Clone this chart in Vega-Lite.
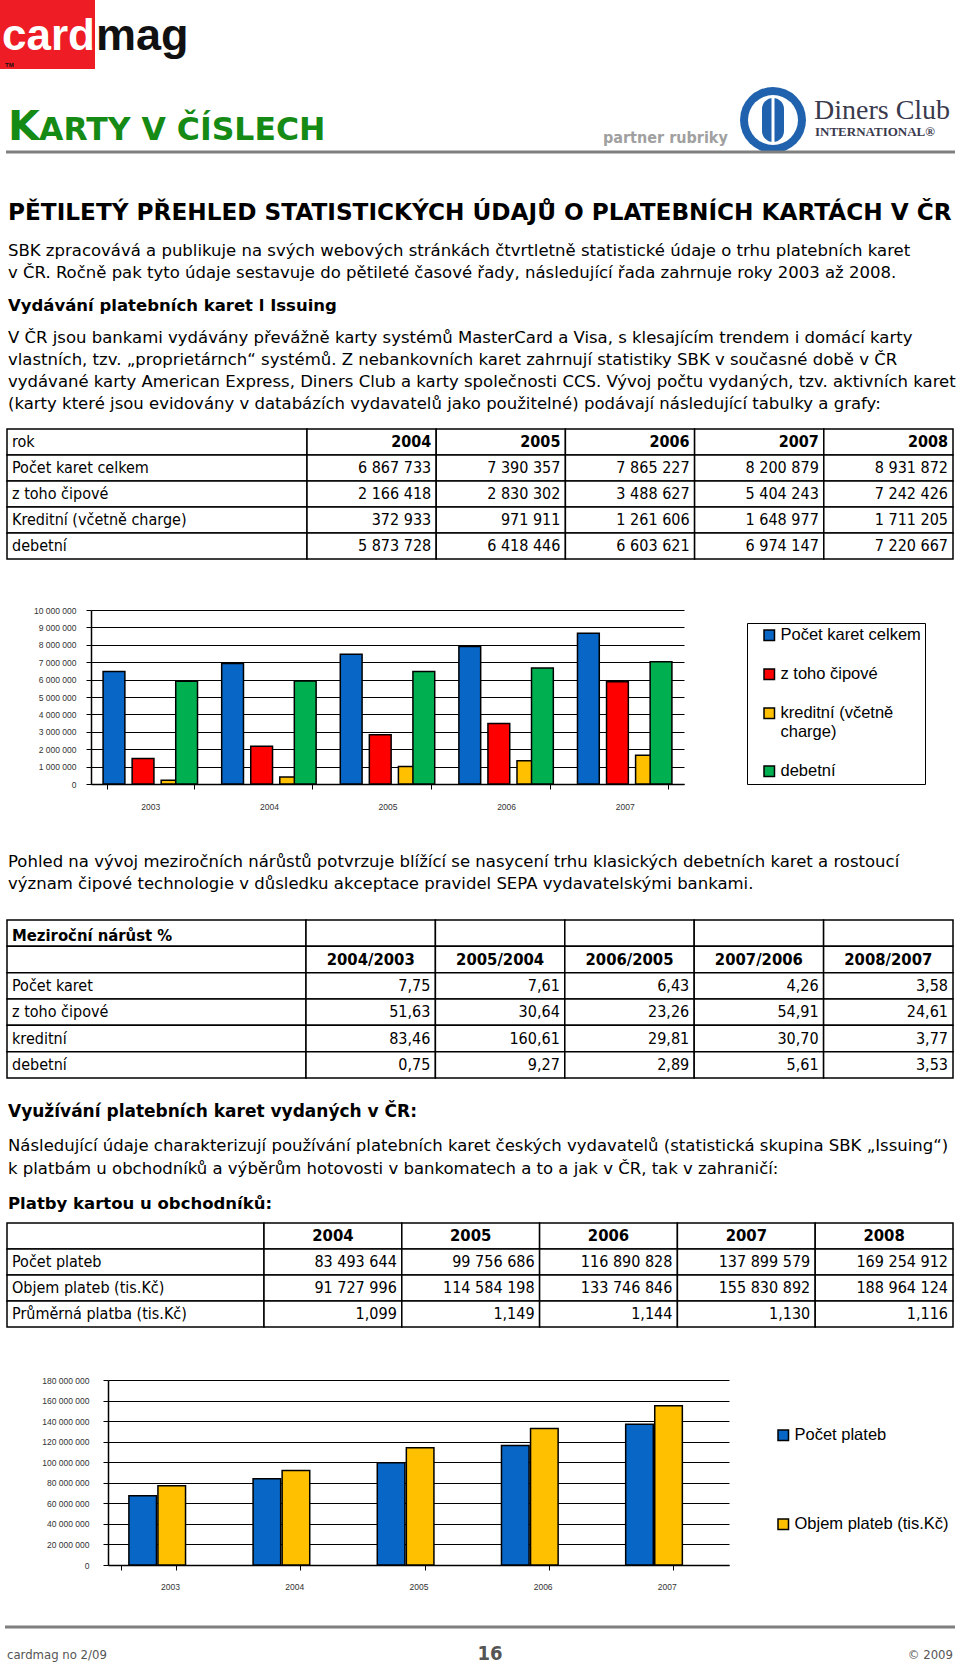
{
  "$schema": "https://vega.github.io/schema/vega-lite/v6.json",
  "padding": 0,
  "background": "#ffffff",
  "spacing": 0,
  "bounds": "flush",
  "resolve": {"scale": {"color": "independent"}, "legend": {"color": "independent"}},
  "config": {
    "view": {"stroke": null},
    "locale": {"number": {"decimal": ",", "thousands": " ", "grouping": [3], "currency": ["", ""]}}
  },
  "vconcat": [
    {
      "width": 960, "height": 186,
      "layer": [
        {"data": {"values": [{"k": "logo"}]}, "mark": {"type": "rect", "color": "#ee1c24"},
         "encoding": {"x": {"value": 0}, "x2": {"value": 95}, "y": {"value": 0}, "y2": {"value": 69}}},
        {"data": {"values": [{"t": "card"}]}, "mark": {"type": "text", "align": "left", "baseline": "alphabetic", "font": "Liberation Sans", "fontWeight": "bold", "fontSize": 44, "color": "#ffffff"},
         "encoding": {"x": {"value": 2}, "y": {"value": 50}, "text": {"field": "t"}}},
        {"data": {"values": [{"t": "mag"}]}, "mark": {"type": "text", "align": "left", "baseline": "alphabetic", "font": "Liberation Sans", "fontWeight": "bold", "fontSize": 45, "color": "#111111"},
         "encoding": {"x": {"value": 96}, "y": {"value": 50}, "text": {"field": "t"}}},
        {"data": {"values": [{"t": "TM"}]}, "mark": {"type": "text", "align": "left", "baseline": "alphabetic", "font": "Liberation Sans", "fontWeight": "bold", "fontSize": 6, "color": "#111111"},
         "encoding": {"x": {"value": 5}, "y": {"value": 67}, "text": {"field": "t"}}},
        {"data": {"values": [{"t": "K"}]}, "mark": {"type": "text", "align": "left", "baseline": "alphabetic", "font": "DejaVu Sans", "fontWeight": "bold", "fontSize": 41, "color": "#158a15"},
         "encoding": {"x": {"value": 8}, "y": {"value": 140}, "text": {"field": "t"}}},
        {"data": {"values": [{"t": "ARTY V ČÍSLECH"}]}, "mark": {"type": "text", "align": "left", "baseline": "alphabetic", "font": "DejaVu Sans", "fontWeight": "bold", "fontSize": 31.5, "color": "#158a15"},
         "encoding": {"x": {"value": 39}, "y": {"value": 140}, "text": {"field": "t"}}},
        {"data": {"values": [{"t": "partner rubriky"}]}, "mark": {"type": "text", "align": "left", "baseline": "alphabetic", "font": "DejaVu Sans Condensed, DejaVu Sans", "fontWeight": "bold", "fontSize": 16, "color": "#a0a0a0"},
         "encoding": {"x": {"value": 603}, "y": {"value": 143}, "text": {"field": "t"}}},
        {"data": {"values": [{"k": "ring"}]}, "mark": {"type": "point", "shape": "circle", "filled": true, "size": 4356, "color": "#2062ad", "opacity": 1},
         "encoding": {"x": {"value": 773}, "y": {"value": 120}}},
        {"data": {"values": [{"k": "inner"}]}, "mark": {"type": "point", "shape": "circle", "filled": true, "size": 2500, "color": "#ffffff", "opacity": 1},
         "encoding": {"x": {"value": 773}, "y": {"value": 120}}},
        {"data": {"values": [{"k": "core"}]}, "mark": {"type": "rect", "color": "#2062ad", "cornerRadius": 11},
         "encoding": {"x": {"value": 762}, "x2": {"value": 784}, "y": {"value": 98}, "y2": {"value": 142}}},
        {"data": {"values": [{"k": "stripe"}]}, "mark": {"type": "rule", "color": "#ffffff", "strokeWidth": 3},
         "encoding": {"x": {"value": 773}, "y": {"value": 97}, "y2": {"value": 143}}},
        {"data": {"values": [{"t": "Diners Club"}]}, "mark": {"type": "text", "align": "left", "baseline": "alphabetic", "font": "Liberation Serif", "fontSize": 28, "color": "#3a3a4e"},
         "encoding": {"x": {"value": 814}, "y": {"value": 119}, "text": {"field": "t"}}},
        {"data": {"values": [{"t": "INTERNATIONAL®"}]}, "mark": {"type": "text", "align": "left", "baseline": "alphabetic", "font": "Liberation Serif", "fontWeight": "bold", "fontSize": 13, "color": "#3a3a4e"},
         "encoding": {"x": {"value": 815}, "y": {"value": 136}, "text": {"field": "t"}}},
        {"data": {"values": [{"k": "line"}]}, "mark": {"type": "rule", "color": "#808080", "strokeWidth": 3},
         "encoding": {"x": {"value": 6}, "x2": {"value": 955}, "y": {"value": 152}}}
      ]
    },
    {
      "width": 960, "height": 54,
      "data": {"values": [{"i": 0, "t": "PĚTILETÝ PŘEHLED STATISTICKÝCH ÚDAJŮ O PLATEBNÍCH KARTÁCH V ČR"}]},
      "mark": {"type": "text", "align": "left", "font": "DejaVu Sans", "fontWeight": "bold", "fontSize": 23.2, "color": "#000000"},
      "encoding": {"y": {"field": "i", "type": "ordinal", "axis": null, "scale": {"paddingInner": 0, "paddingOuter": 0}}, "x": {"value": 8}, "text": {"field": "t"}}
    },
    {
      "width": 960, "height": 44,
      "data": {"values": [
        {"i": 0, "t": "SBK zpracovává a publikuje na svých webových stránkách čtvrtletně statistické údaje o trhu platebních karet"},
        {"i": 1, "t": "v ČR. Ročně pak tyto údaje sestavuje do pětileté časové řady, následující řada zahrnuje roky  2003 až 2008."}
      ]},
      "mark": {"type": "text", "align": "left", "font": "DejaVu Sans", "fontSize": 16.5, "color": "#000000"},
      "encoding": {"y": {"field": "i", "type": "ordinal", "axis": null, "scale": {"paddingInner": 0, "paddingOuter": 0}}, "x": {"value": 8}, "text": {"field": "t"}}
    },
    {
      "width": 960, "height": 43,
      "data": {"values": [{"i": 0, "t": "Vydávání platebních karet l  Issuing"}]},
      "mark": {"type": "text", "align": "left", "font": "DejaVu Sans", "fontWeight": "bold", "fontSize": 16.5, "color": "#000000"},
      "encoding": {"y": {"field": "i", "type": "ordinal", "axis": null, "scale": {"paddingInner": 0, "paddingOuter": 0}}, "x": {"value": 8}, "text": {"field": "t"}}
    },
    {
      "width": 960, "height": 88,
      "data": {"values": [
        {"i": 0, "t": " V ČR jsou bankami vydávány převážně karty systémů MasterCard a Visa,  s klesajícím trendem i domácí karty"},
        {"i": 1, "t": "vlastních, tzv. „proprietárnch“ systémů. Z nebankovních karet zahrnují statistiky SBK v současné době v ČR"},
        {"i": 2, "t": "vydávané karty American Express, Diners Club a karty společnosti CCS. Vývoj počtu vydaných, tzv. aktivních karet"},
        {"i": 3, "t": "(karty které jsou evidovány v databázích vydavatelů jako použitelné) podávají následující tabulky a grafy:"}
      ]},
      "mark": {"type": "text", "align": "left", "font": "DejaVu Sans", "fontSize": 16.5, "color": "#000000"},
      "encoding": {"y": {"field": "i", "type": "ordinal", "axis": null, "scale": {"paddingInner": 0, "paddingOuter": 0}}, "x": {"value": 8}, "text": {"field": "t"}}
    },
    {"width": 960, "height": 14, "data": {"values": []}, "mark": "point"},
    {
      "width": 960, "height": 130,
      "data": {"values": [
        {"i": 0, "label": "rok", "a": "2004", "b": "2005", "c": "2006", "d": "2007", "e": "2008"},
        {"i": 1, "label": "Počet karet celkem", "a": "6 867 733", "b": "7 390 357", "c": "7 865 227", "d": "8 200 879", "e": "8 931 872"},
        {"i": 2, "label": "z toho čipové", "a": "2 166 418", "b": "2 830 302", "c": "3 488 627", "d": "5 404 243", "e": "7 242 426"},
        {"i": 3, "label": "Kreditní (včetně charge)", "a": "372 933", "b": "971 911", "c": "1 261 606", "d": "1 648 977", "e": "1 711 205"},
        {"i": 4, "label": "debetní", "a": "5 873 728", "b": "6 418 446", "c": "6 603 621", "d": "6 974 147", "e": "7 220 667"}
      ]},
      "encoding": {"y": {"field": "i", "type": "ordinal", "axis": null, "scale": {"paddingInner": 0, "paddingOuter": 0}}},
      "layer": [
        {
          "transform": [{"fold": ["label"], "as": ["col", "val"]}],
          "layer": [
            {"mark": {"type": "rect", "fill": "#ffffff", "stroke": "#000000", "strokeWidth": 1.5},
             "encoding": {"x": {"field": "col", "type": "nominal", "axis": null, "scale": {"range": [7, 307], "paddingInner": 0, "paddingOuter": 0}}}},
            {"mark": {"type": "text", "align": "left", "dx": 5, "font": "DejaVu Sans Condensed, DejaVu Sans", "fontSize": 16, "color": "#000000"},
             "encoding": {"x": {"field": "col", "type": "nominal", "axis": null, "bandPosition": 0}, "text": {"field": "val"}}}
          ]
        },
        {
          "transform": [{"fold": ["a", "b", "c", "d", "e"], "as": ["col", "val"]}],
          "layer": [
            {"mark": {"type": "rect", "fill": "#ffffff", "stroke": "#000000", "strokeWidth": 1.5},
             "encoding": {"x": {"field": "col", "type": "nominal", "axis": null, "scale": {"range": [307, 953], "paddingInner": 0, "paddingOuter": 0}}}},
            {"transform": [{"filter": "datum.i > 0"}],
             "mark": {"type": "text", "align": "right", "dx": -5, "font": "DejaVu Sans Condensed, DejaVu Sans", "fontSize": 16, "color": "#000000"},
             "encoding": {"x": {"field": "col", "type": "nominal", "axis": null, "bandPosition": 1}, "text": {"field": "val"}}},
            {"transform": [{"filter": "datum.i == 0"}],
             "mark": {"type": "text", "align": "right", "dx": -5, "font": "DejaVu Sans Condensed, DejaVu Sans", "fontWeight": "bold", "fontSize": 16, "color": "#000000"},
             "encoding": {"x": {"field": "col", "type": "nominal", "axis": null, "bandPosition": 1}, "text": {"field": "val"}}}
          ]
        }
      ],
      "resolve": {"scale": {"x": "independent"}}
    },
    {"width": 960, "height": 51, "data": {"values": []}, "mark": "point"},
    {
      "width": 960, "height": 174,
      "data": {"values": [
        {"year": "2003", "series": "Počet karet celkem", "value": 6460000},
        {"year": "2003", "series": "z toho čipové", "value": 1460000},
        {"year": "2003", "series": "kreditní (včetně charge)", "value": 210000},
        {"year": "2003", "series": "debetní", "value": 5900000},
        {"year": "2004", "series": "Počet karet celkem", "value": 6920000},
        {"year": "2004", "series": "z toho čipové", "value": 2170000},
        {"year": "2004", "series": "kreditní (včetně charge)", "value": 400000},
        {"year": "2004", "series": "debetní", "value": 5920000},
        {"year": "2005", "series": "Počet karet celkem", "value": 7460000},
        {"year": "2005", "series": "z toho čipové", "value": 2830000},
        {"year": "2005", "series": "kreditní (včetně charge)", "value": 1000000},
        {"year": "2005", "series": "debetní", "value": 6460000},
        {"year": "2006", "series": "Počet karet celkem", "value": 7900000},
        {"year": "2006", "series": "z toho čipové", "value": 3480000},
        {"year": "2006", "series": "kreditní (včetně charge)", "value": 1330000},
        {"year": "2006", "series": "debetní", "value": 6670000},
        {"year": "2007", "series": "Počet karet celkem", "value": 8670000},
        {"year": "2007", "series": "z toho čipové", "value": 5880000},
        {"year": "2007", "series": "kreditní (včetně charge)", "value": 1650000},
        {"year": "2007", "series": "debetní", "value": 7020000}
      ]},
      "mark": {"type": "bar", "stroke": "#000000", "strokeWidth": 1.5, "width": 21.8},
      "encoding": {
        "x": {"field": "year", "type": "nominal", "scale": {"range": [91, 684], "paddingInner": 0.265, "paddingOuter": 0.1325},
              "axis": {"title": null, "labelAngle": 0, "labelFont": "Liberation Sans", "labelFontSize": 8.5, "labelColor": "#333333", "tickBand": "extent", "tickSize": 5, "tickColor": "#000000", "domainColor": "#000000", "domainWidth": 1.5, "labelPadding": 13}},
        "xOffset": {"field": "series", "type": "nominal", "sort": ["Počet karet celkem", "z toho čipové", "kreditní (včetně charge)", "debetní"], "scale": {"paddingInner": 0, "paddingOuter": 0}},
        "y": {"field": "value", "type": "quantitative", "scale": {"domain": [0, 10000000], "nice": false},
              "axis": {"title": null, "offset": -91, "tickCount": 10, "format": ",d", "labelFont": "Liberation Sans", "labelFontSize": 8.5, "labelColor": "#333333", "gridColor": "#000000", "gridWidth": 1, "tickColor": "#000000", "tickSize": 5, "domainColor": "#000000", "domainWidth": 1.5, "labelPadding": 10}},
        "color": {"field": "series", "type": "nominal",
                  "scale": {"domain": ["Počet karet celkem", "z toho čipové", "kreditní (včetně charge)", "debetní"], "range": ["#0866c6", "#ff0000", "#ffc000", "#00b050"]},
                  "legend": {"title": null, "orient": "none", "legendX": 747, "legendY": 13, "strokeColor": "#000000", "padding": 4, "symbolOffset": 10, "symbolType": "square", "symbolSize": 110, "symbolStrokeColor": "#000000", "symbolStrokeWidth": 1.5, "symbolOpacity": 1, "labelFont": "Liberation Sans", "labelFontSize": 16.5, "labelColor": "#000000", "labelOffset": 3, "labelLimit": 300, "rowPadding": 22,
                             "labelExpr": "datum.label == 'kreditní (včetně charge)' ? ['kreditní (včetně', 'charge)'] : datum.label"}}
      }
    },
    {"width": 960, "height": 67, "data": {"values": []}, "mark": "point"},
    {
      "width": 960, "height": 44,
      "data": {"values": [
        {"i": 0, "t": "Pohled na vývoj meziročních nárůstů potvrzuje blížící se nasycení trhu klasických debetních karet a rostoucí"},
        {"i": 1, "t": "význam čipové technologie v důsledku akceptace pravidel SEPA vydavatelskými bankami."}
      ]},
      "mark": {"type": "text", "align": "left", "font": "DejaVu Sans", "fontSize": 16.5, "color": "#000000"},
      "encoding": {"y": {"field": "i", "type": "ordinal", "axis": null, "scale": {"paddingInner": 0, "paddingOuter": 0}}, "x": {"value": 8}, "text": {"field": "t"}}
    },
    {"width": 960, "height": 25, "data": {"values": []}, "mark": "point"},
    {
      "width": 960, "height": 158,
      "data": {"values": [
        {"i": 0, "label": "Meziroční nárůst %", "a": "", "b": "", "c": "", "d": "", "e": ""},
        {"i": 1, "label": "", "a": "2004/2003", "b": "2005/2004", "c": "2006/2005", "d": "2007/2006", "e": "2008/2007"},
        {"i": 2, "label": "Počet karet", "a": "7,75", "b": "7,61", "c": "6,43", "d": "4,26", "e": "3,58"},
        {"i": 3, "label": "z toho čipové", "a": "51,63", "b": "30,64", "c": "23,26", "d": "54,91", "e": "24,61"},
        {"i": 4, "label": "kreditní", "a": "83,46", "b": "160,61", "c": "29,81", "d": "30,70", "e": "3,77"},
        {"i": 5, "label": "debetní", "a": "0,75", "b": "9,27", "c": "2,89", "d": "5,61", "e": "3,53"}
      ]},
      "encoding": {"y": {"field": "i", "type": "ordinal", "axis": null, "scale": {"paddingInner": 0, "paddingOuter": 0}}},
      "layer": [
        {
          "transform": [{"fold": ["label"], "as": ["col", "val"]}],
          "layer": [
            {"mark": {"type": "rect", "fill": "#ffffff", "stroke": "#000000", "strokeWidth": 1.5},
             "encoding": {"x": {"field": "col", "type": "nominal", "axis": null, "scale": {"range": [7, 306], "paddingInner": 0, "paddingOuter": 0}}}},
            {"transform": [{"filter": "datum.i > 0"}],
             "mark": {"type": "text", "align": "left", "dx": 5, "font": "DejaVu Sans Condensed, DejaVu Sans", "fontSize": 16, "color": "#000000"},
             "encoding": {"x": {"field": "col", "type": "nominal", "axis": null, "bandPosition": 0}, "text": {"field": "val"}}},
            {"transform": [{"filter": "datum.i == 0"}],
             "mark": {"type": "text", "align": "left", "dx": 5, "dy": 3, "font": "DejaVu Sans Condensed, DejaVu Sans", "fontWeight": "bold", "fontSize": 16.5, "color": "#000000"},
             "encoding": {"x": {"field": "col", "type": "nominal", "axis": null, "bandPosition": 0}, "text": {"field": "val"}}}
          ]
        },
        {
          "transform": [{"fold": ["a", "b", "c", "d", "e"], "as": ["col", "val"]}],
          "layer": [
            {"mark": {"type": "rect", "fill": "#ffffff", "stroke": "#000000", "strokeWidth": 1.5},
             "encoding": {"x": {"field": "col", "type": "nominal", "axis": null, "scale": {"range": [306, 953], "paddingInner": 0, "paddingOuter": 0}}}},
            {"transform": [{"filter": "datum.i > 1"}],
             "mark": {"type": "text", "align": "right", "dx": -5, "font": "DejaVu Sans Condensed, DejaVu Sans", "fontSize": 16, "color": "#000000"},
             "encoding": {"x": {"field": "col", "type": "nominal", "axis": null, "bandPosition": 1}, "text": {"field": "val"}}},
            {"transform": [{"filter": "datum.i == 1"}],
             "mark": {"type": "text", "align": "center", "font": "DejaVu Sans Condensed, DejaVu Sans", "fontWeight": "bold", "fontSize": 16.5, "color": "#000000"},
             "encoding": {"x": {"field": "col", "type": "nominal", "axis": null, "bandPosition": 0.5}, "text": {"field": "val"}}}
          ]
        }
      ],
      "resolve": {"scale": {"x": "independent"}}
    },
    {"width": 960, "height": 12, "data": {"values": []}, "mark": "point"},
    {
      "width": 960, "height": 44,
      "data": {"values": [{"i": 0, "t": "Využívání platebních karet vydaných v ČR:"}]},
      "mark": {"type": "text", "align": "left", "font": "DejaVu Sans", "fontWeight": "bold", "fontSize": 17, "color": "#000000"},
      "encoding": {"y": {"field": "i", "type": "ordinal", "axis": null, "scale": {"paddingInner": 0, "paddingOuter": 0}}, "x": {"value": 8}, "text": {"field": "t"}}
    },
    {
      "width": 960, "height": 46,
      "data": {"values": [
        {"i": 0, "t": "Následující údaje charakterizují používání platebních karet českých vydavatelů (statistická skupina SBK „Issuing“)"},
        {"i": 1, "t": "k platbám u obchodníků a výběrům hotovosti v bankomatech a to a jak v ČR, tak v zahraničí:"}
      ]},
      "mark": {"type": "text", "align": "left", "font": "DejaVu Sans", "fontSize": 16.5, "color": "#000000"},
      "encoding": {"y": {"field": "i", "type": "ordinal", "axis": null, "scale": {"paddingInner": 0, "paddingOuter": 0}}, "x": {"value": 8}, "text": {"field": "t"}}
    },
    {"width": 960, "height": 5, "data": {"values": []}, "mark": "point"},
    {
      "width": 960, "height": 38,
      "data": {"values": [{"i": 0, "t": "Platby kartou u obchodníků:"}]},
      "mark": {"type": "text", "align": "left", "font": "DejaVu Sans", "fontWeight": "bold", "fontSize": 16.5, "color": "#000000"},
      "encoding": {"y": {"field": "i", "type": "ordinal", "axis": null, "scale": {"paddingInner": 0, "paddingOuter": 0}}, "x": {"value": 8}, "text": {"field": "t"}}
    },
    {
      "width": 960, "height": 104,
      "data": {"values": [
        {"i": 0, "label": "", "a": "2004", "b": "2005", "c": "2006", "d": "2007", "e": "2008"},
        {"i": 1, "label": "Počet plateb", "a": "83 493 644", "b": "99 756 686", "c": "116 890 828", "d": "137 899 579", "e": "169 254 912"},
        {"i": 2, "label": "Objem plateb (tis.Kč)", "a": "91 727 996", "b": "114 584 198", "c": "133 746 846", "d": "155 830 892", "e": "188 964 124"},
        {"i": 3, "label": "Průměrná platba (tis.Kč)", "a": "1,099", "b": "1,149", "c": "1,144", "d": "1,130", "e": "1,116"}
      ]},
      "encoding": {"y": {"field": "i", "type": "ordinal", "axis": null, "scale": {"paddingInner": 0, "paddingOuter": 0}}},
      "layer": [
        {
          "transform": [{"fold": ["label"], "as": ["col", "val"]}],
          "layer": [
            {"mark": {"type": "rect", "fill": "#ffffff", "stroke": "#000000", "strokeWidth": 1.5},
             "encoding": {"x": {"field": "col", "type": "nominal", "axis": null, "scale": {"range": [7, 264], "paddingInner": 0, "paddingOuter": 0}}}},
            {"mark": {"type": "text", "align": "left", "dx": 5, "font": "DejaVu Sans Condensed, DejaVu Sans", "fontSize": 16, "color": "#000000"},
             "encoding": {"x": {"field": "col", "type": "nominal", "axis": null, "bandPosition": 0}, "text": {"field": "val"}}}
          ]
        },
        {
          "transform": [{"fold": ["a", "b", "c", "d", "e"], "as": ["col", "val"]}],
          "layer": [
            {"mark": {"type": "rect", "fill": "#ffffff", "stroke": "#000000", "strokeWidth": 1.5},
             "encoding": {"x": {"field": "col", "type": "nominal", "axis": null, "scale": {"range": [264, 953], "paddingInner": 0, "paddingOuter": 0}}}},
            {"transform": [{"filter": "datum.i > 0"}],
             "mark": {"type": "text", "align": "right", "dx": -5, "font": "DejaVu Sans Condensed, DejaVu Sans", "fontSize": 16, "color": "#000000"},
             "encoding": {"x": {"field": "col", "type": "nominal", "axis": null, "bandPosition": 1}, "text": {"field": "val"}}},
            {"transform": [{"filter": "datum.i == 0"}],
             "mark": {"type": "text", "align": "center", "font": "DejaVu Sans Condensed, DejaVu Sans", "fontWeight": "bold", "fontSize": 16.5, "color": "#000000"},
             "encoding": {"x": {"field": "col", "type": "nominal", "axis": null, "bandPosition": 0.5}, "text": {"field": "val"}}}
          ]
        }
      ],
      "resolve": {"scale": {"x": "independent"}}
    },
    {"width": 960, "height": 53, "data": {"values": []}, "mark": "point"},
    {
      "width": 960, "height": 185,
      "data": {"values": [
        {"year": "2003", "series": "Počet plateb", "value": 67500000},
        {"year": "2003", "series": "Objem plateb (tis.Kč)", "value": 77000000},
        {"year": "2004", "series": "Počet plateb", "value": 83800000},
        {"year": "2004", "series": "Objem plateb (tis.Kč)", "value": 91900000},
        {"year": "2005", "series": "Počet plateb", "value": 99400000},
        {"year": "2005", "series": "Objem plateb (tis.Kč)", "value": 114000000},
        {"year": "2006", "series": "Počet plateb", "value": 116200000},
        {"year": "2006", "series": "Objem plateb (tis.Kč)", "value": 132800000},
        {"year": "2007", "series": "Počet plateb", "value": 137000000},
        {"year": "2007", "series": "Objem plateb (tis.Kč)", "value": 154900000}
      ]},
      "mark": {"type": "bar", "stroke": "#000000", "strokeWidth": 1.5, "width": 27.6},
      "encoding": {
        "x": {"field": "year", "type": "nominal", "scale": {"range": [108, 729], "paddingInner": 0.555, "paddingOuter": 0.2775, "align": 0.187},
              "axis": {"title": null, "labelAngle": 0, "labelFont": "Liberation Sans", "labelFontSize": 8.5, "labelColor": "#333333", "tickBand": "extent", "tickOffset": 21.6, "labelOffset": 21.5, "tickSize": 5, "tickColor": "#000000", "domainColor": "#000000", "domainWidth": 1.5, "labelPadding": 12}},
        "xOffset": {"field": "series", "type": "nominal", "sort": ["Počet plateb", "Objem plateb (tis.Kč)"], "scale": {"paddingInner": 0, "paddingOuter": 0}},
        "y": {"field": "value", "type": "quantitative", "scale": {"domain": [0, 180000000], "nice": false},
              "axis": {"title": null, "offset": -108, "tickCount": 9, "format": ",d", "labelFont": "Liberation Sans", "labelFontSize": 8.5, "labelColor": "#333333", "gridColor": "#000000", "gridWidth": 1, "tickColor": "#000000", "tickSize": 5, "domainColor": "#000000", "domainWidth": 1.5, "labelPadding": 14}},
        "color": {"field": "series", "type": "nominal",
                  "scale": {"domain": ["Počet plateb", "Objem plateb (tis.Kč)"], "range": ["#0866c6", "#ffc000"]},
                  "legend": {"title": null, "orient": "none", "legendX": 775, "legendY": 47, "padding": 0, "symbolType": "square", "symbolSize": 110, "symbolStrokeColor": "#000000", "symbolStrokeWidth": 1.5, "symbolOpacity": 1, "labelFont": "Liberation Sans", "labelFontSize": 16.5, "labelColor": "#000000", "labelOffset": 3, "labelLimit": 300, "rowPadding": 72}}
      }
    },
    {
      "width": 960, "height": 101,
      "layer": [
        {"data": {"values": [{"k": "line"}]}, "mark": {"type": "rule", "color": "#7f7f7f", "strokeWidth": 3},
         "encoding": {"x": {"value": 5}, "x2": {"value": 955}, "y": {"value": 62}}},
        {"data": {"values": [{"t": "cardmag no 2/09"}]}, "mark": {"type": "text", "align": "left", "font": "DejaVu Sans Condensed, DejaVu Sans", "fontSize": 13, "color": "#555555"},
         "encoding": {"x": {"value": 7}, "y": {"value": 90}, "text": {"field": "t"}}},
        {"data": {"values": [{"t": "16"}]}, "mark": {"type": "text", "align": "center", "font": "DejaVu Sans Condensed, DejaVu Sans", "fontWeight": "bold", "fontSize": 20, "color": "#555555"},
         "encoding": {"x": {"value": 490}, "y": {"value": 89}, "text": {"field": "t"}}},
        {"data": {"values": [{"t": "© 2009"}]}, "mark": {"type": "text", "align": "right", "font": "DejaVu Sans Condensed, DejaVu Sans", "fontSize": 13, "color": "#555555"},
         "encoding": {"x": {"value": 953}, "y": {"value": 90}, "text": {"field": "t"}}}
      ]
    }
  ]
}
